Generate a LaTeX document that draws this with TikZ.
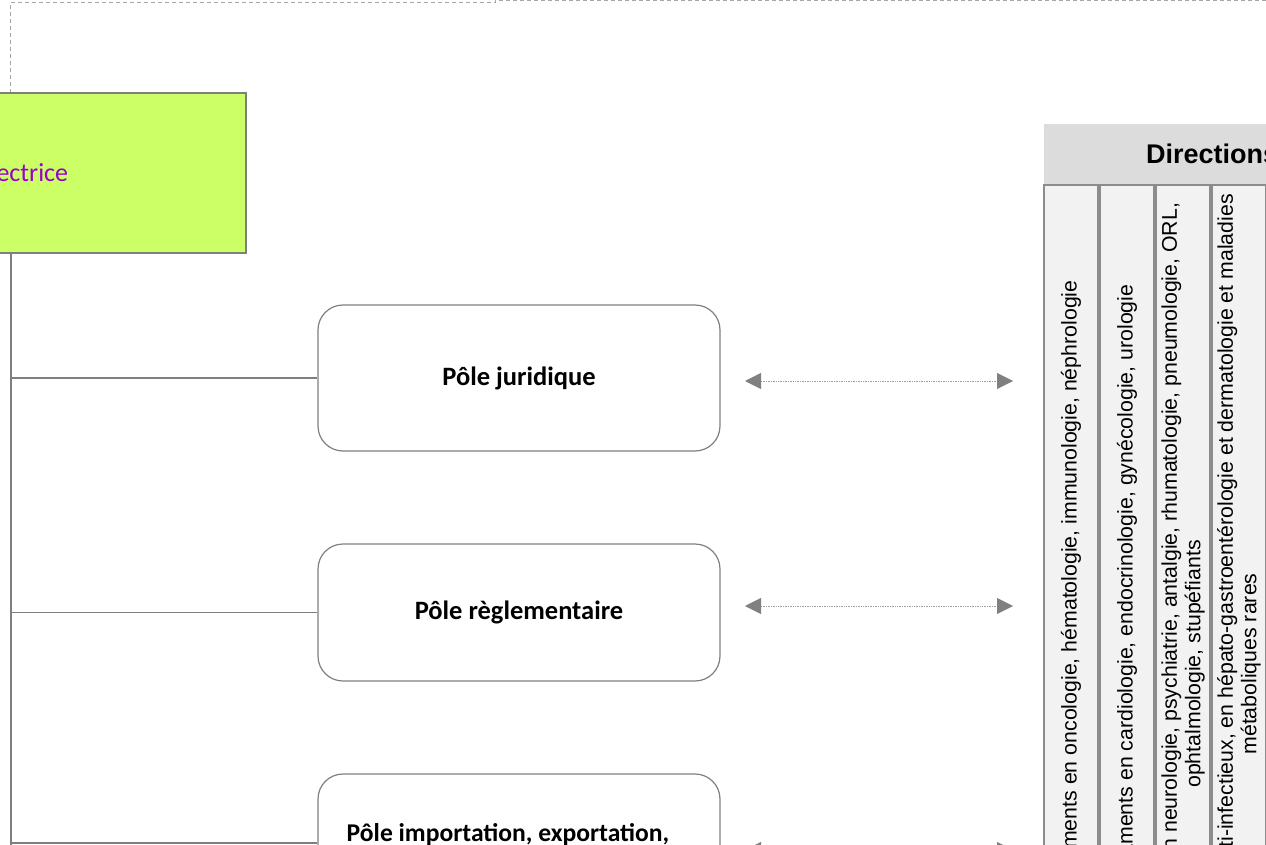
\documentclass[tikz,border=0pt]{standalone}
\usepackage{fontspec}
\setmainfont{Carlito}
\newfontfamily\arialfont{Liberation Sans}
\usepackage{tikz}
\usetikzlibrary{arrows.meta}
\usetikzlibrary{positioning}
\definecolor{linegray}{HTML}{7F7F7F}
\definecolor{dashgray}{HTML}{A6A6A6}
\definecolor{dotgray}{HTML}{A0A0A0}
\definecolor{tipgray}{HTML}{808080}
\definecolor{bossgreen}{HTML}{CCFF66}
\definecolor{bosspurple}{HTML}{9900CC}
\definecolor{headgray}{HTML}{DCDCDC}
\definecolor{cellfill}{HTML}{F2F2F2}
\definecolor{cellgray}{HTML}{8C8C8C}

\begin{document}
\begin{tikzpicture}[x=1pt, y=-1pt,
    boss/.style={draw=linegray, line width=2.5pt, fill=bossgreen, minimum width=458pt, minimum height=160pt, text=bosspurple, font=\fontsize{26}{30}\selectfont},
    pole/.style={draw=linegray, line width=1.2pt, rounded corners=25pt, minimum width=402pt, inner sep=0pt, font=\fontsize{26.5}{30}\selectfont\bfseries},
    link/.style={draw=linegray, line width=1.5pt},
    frame/.style={draw=dashgray, line width=1pt, dash pattern=on 4pt off 3pt},
    biarrow/.style={draw=dotgray, line width=0.8pt, dash pattern=on 1pt off 0.7pt, {Triangle[length=16pt,width=16pt,color=tipgray]}-{Triangle[length=16pt,width=16pt,color=tipgray]}},
    cell/.style={draw=cellgray, line width=1.5pt, fill=cellfill, rotate=90, minimum width=958pt, minimum height=54pt, inner sep=0pt, align=center, font=\arialfont\fontsize{21.3}{23.5}\selectfont}]
  \useasboundingbox (0,0) rectangle (1266,845);
  \clip (0,0) rectangle (1266,845);
  \draw[frame] (10,93) -- (10,3) -- (495,3) -- (495,1) -- (1270,1);
  \node[boss] (dir) at (17,173) {Directrice};
  \node[pole, minimum height=146pt] (jur) at (519,378) {Pôle juridique};
  \node[pole, minimum height=137pt] (reg) at (519,612.5) {Pôle règlementaire};
  \node[pole, minimum height=138pt] (imp) at (519,843) {};
  \node[font=\fontsize{25.6}{30}\selectfont\bfseries, inner sep=0pt, anchor=base] (impt) at (508,841) {Pôle importation, exportation,};
  \coordinate (tb) at (11,850);
  \draw[link] (dir.south -| tb) -- (tb);
  \draw[link] (jur.west -| tb) -- (jur.west);
  \draw[link] (reg.west -| tb) -- (reg.west);
  \draw[link] (imp.west -| tb) -- (imp.west);
  \coordinate (ja) at (745,381);
  \coordinate (jb) at (1013,381);
  \coordinate (ra) at (745,606);
  \coordinate (rb) at (1013,606);
  \coordinate (ia) at (745,850);
  \coordinate (ib) at (1013,850);
  \draw[biarrow] (ja) -- (jb);
  \draw[biarrow] (ra) -- (rb);
  \draw[biarrow] (ia) -- (ib);
  \fill[headgray] (1044,124) rectangle (1300,184);
  \node[font=\arialfont\bfseries\fontsize{27}{31}\selectfont, anchor=west, inner sep=0pt] (dirs) at (1146,154) {Directions};
  \node[cell] (onco) at (1071,664) {Direction des médicaments en oncologie, hématologie, immunologie, néphrologie};
  \node[cell] (cardio) at (1127,664) {Direction des médicaments en cardiologie, endocrinologie, gynécologie, urologie};
  \node[cell] (neuro) at (1183,664) {Direction des médicaments en neurologie, psychiatrie, antalgie, rhumatologie, pneumologie, ORL,\\ ophtalmologie, stupéfiants};
  \node[cell] (infect) at (1239,664) {Direction des médicaments anti-infectieux, en hépato-gastroentérologie et dermatologie et maladies\\ métaboliques rares};
\end{tikzpicture}
\end{document}
